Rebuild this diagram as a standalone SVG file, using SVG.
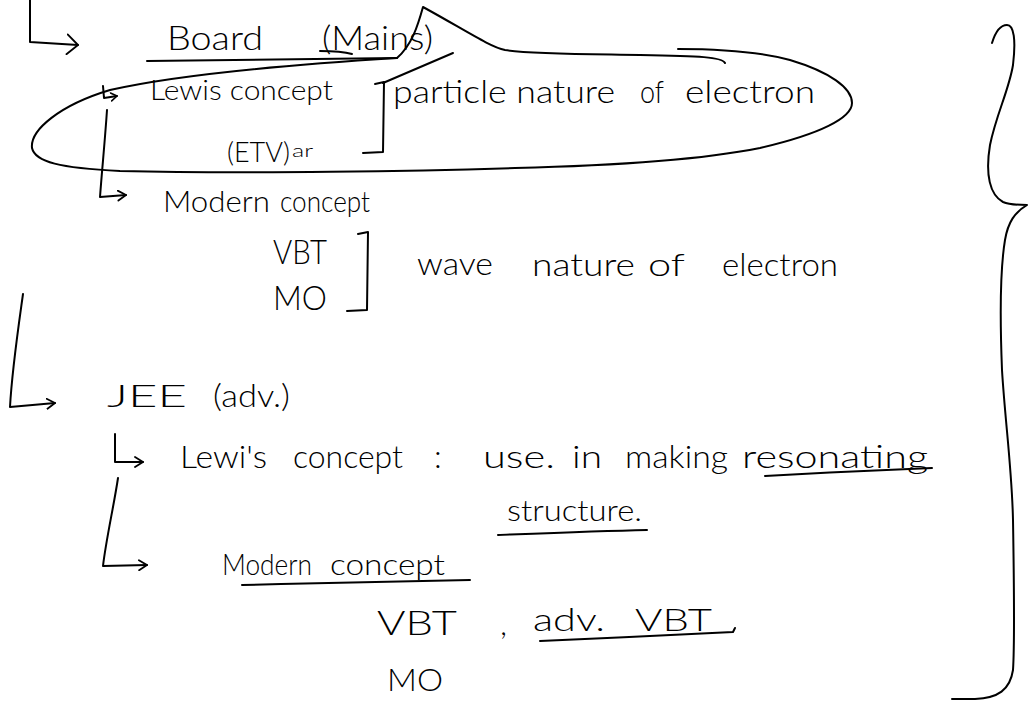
<svg xmlns="http://www.w3.org/2000/svg" width="1030" height="702" viewBox="0 0 1030 702">
  <style>
    .ink { fill: none; stroke: #000; stroke-width: 2; stroke-linecap: round; stroke-linejoin: round; }
    .t { font-family: "Lato", "Inter", "Liberation Sans", sans-serif; font-weight: 300; fill: #000; }
    .s28 { font-size: 28px; }
    .s30 { font-size: 30px; }
    .s32 { font-size: 32px; }
    .s34 { font-size: 34px; }
  </style>
  <defs>
    <marker id="head" viewBox="0 0 10 12" refX="9" refY="6" markerWidth="10" markerHeight="12" markerUnits="userSpaceOnUse" orient="auto">
      <path d="M1,1 L9,6 L1,11" fill="none" stroke="#000" stroke-width="1.8" stroke-linecap="round" stroke-linejoin="round"/>
    </marker>
    <marker id="headL" viewBox="0 0 13 22" refX="12" refY="11" markerWidth="13" markerHeight="22" markerUnits="userSpaceOnUse" orient="auto">
      <path d="M1,1 L12,11 L1,21" fill="none" stroke="#000" stroke-width="1.8" stroke-linecap="round" stroke-linejoin="round"/>
    </marker>
    <marker id="headS" viewBox="0 0 8 10" refX="7" refY="5" markerWidth="8" markerHeight="10" markerUnits="userSpaceOnUse" orient="auto">
      <path d="M1,1 L7,5 L1,9" fill="none" stroke="#000" stroke-width="1.6" stroke-linecap="round" stroke-linejoin="round"/>
    </marker>
  </defs>
  <rect width="1030" height="702" fill="#fff"/>

  <!-- tree branches and their arrows -->
  <g id="connectors" class="ink">
    <path d="M30,0 L30,42 L78,45" marker-end="url(#headL)"/>
    <path d="M103,86 L104,98 L117,96" marker-end="url(#headS)"/>
    <path d="M107,110 C105,140 102,170 100,197 L126,195" marker-end="url(#head)"/>
    <path d="M23,294 C18,330 12,370 10,407 L55,403" marker-end="url(#head)"/>
    <path d="M115,434 L115,462 L143,462" marker-end="url(#head)"/>
    <path d="M118,478 C114,505 106,540 103,566 L147,565" marker-end="url(#head)"/>
  </g>

  <!-- Board (Mains) -->
  <g id="board">
    <text class="t s34" x="167" y="50" textLength="96" lengthAdjust="spacingAndGlyphs">Board</text>
    <text class="t s34" x="322" y="50" textLength="111" lengthAdjust="spacingAndGlyphs">(Mains)</text>
    <path class="ink" d="M147,61 C250,60 330,59 397,58"/>
    <path class="ink" d="M320,51 C330,51 345,52 352,54"/>
  </g>

  <!-- ring drawn round the Lewis line -->
  <g id="ring" class="ink">
    <path d="M725,63 C722,57 700,56 640,55 C580,54 530,54 505,50 C490,47 465,30 423,7 C418,25 412,45 397,58 C300,64 180,74 110,90 C60,105 30,130 32,148 C35,162 60,168 120,171 C250,174 420,171 515,168 C600,166 700,160 760,148 C820,134 852,118 852,103 C852,88 830,72 790,60 C760,52 720,49 678,49"/>
    <path d="M383,83 L453,53"/>
  </g>

  <!-- Lewis concept : particle nature -->
  <g id="lewis">
    <text class="t s28" x="150" y="100" textLength="183" lengthAdjust="spacingAndGlyphs">Lewis concept</text>
    <text class="t s28" x="227" y="162" textLength="63" lengthAdjust="spacingAndGlyphs">(ETV)</text>
    <text class="t" font-size="18" x="292" y="157" textLength="21" lengthAdjust="spacingAndGlyphs">ar</text>
    <path class="ink" d="M375,84 L384,82 L383,152 L363,153"/>
    <text class="t s32" x="393" y="103" textLength="222" lengthAdjust="spacingAndGlyphs">particle nature</text>
    <text class="t s32" x="640" y="103" textLength="24" lengthAdjust="spacingAndGlyphs">of</text>
    <text class="t s32" x="685" y="103" textLength="130" lengthAdjust="spacingAndGlyphs">electron</text>
  </g>

  <!-- Modern concept : wave nature -->
  <g id="modern">
    <text class="t s30" x="163" y="212" textLength="107" lengthAdjust="spacingAndGlyphs">Modern</text>
    <text class="t s30" x="280" y="212" textLength="90" lengthAdjust="spacingAndGlyphs">concept</text>
    <text class="t s34" x="273" y="264" textLength="54" lengthAdjust="spacingAndGlyphs">VBT</text>
    <text class="t s34" x="273" y="310" textLength="54" lengthAdjust="spacingAndGlyphs">MO</text>
    <path class="ink" d="M358,234 L368,232 L367,310 L347,311"/>
    <text class="t s32" x="417" y="275" textLength="76" lengthAdjust="spacingAndGlyphs">wave</text>
    <text class="t s32" x="532" y="276" textLength="103" lengthAdjust="spacingAndGlyphs">nature</text>
    <text class="t s32" x="648" y="276" textLength="37" lengthAdjust="spacingAndGlyphs">of</text>
    <text class="t s32" x="722" y="276" textLength="116" lengthAdjust="spacingAndGlyphs">electron</text>
  </g>

  <!-- JEE (adv.) -->
  <g id="jee">
    <text class="t s32" x="107" y="407" textLength="80" lengthAdjust="spacingAndGlyphs">JEE</text>
    <text class="t s32" x="213" y="407" textLength="77" lengthAdjust="spacingAndGlyphs">(adv.)</text>
  </g>

  <!-- Lewis concept : resonating structure -->
  <g id="jee-lewis">
    <text class="t s32" x="180" y="468" textLength="87" lengthAdjust="spacingAndGlyphs">Lewi's</text>
    <text class="t s32" x="293" y="468" textLength="110" lengthAdjust="spacingAndGlyphs">concept</text>
    <text class="t s32" x="434" y="468">:</text>
    <text class="t s32" x="483" y="468" textLength="72" lengthAdjust="spacingAndGlyphs">use.</text>
    <text class="t s32" x="572" y="468" textLength="30" lengthAdjust="spacingAndGlyphs">in</text>
    <text class="t s32" x="625" y="468" textLength="103" lengthAdjust="spacingAndGlyphs">making</text>
    <text class="t s32" x="742" y="468" textLength="186" lengthAdjust="spacingAndGlyphs">resonating</text>
    <path class="ink" d="M765,476 C820,473 880,470 932,468"/>
    <text class="t s30" x="507" y="521" textLength="135" lengthAdjust="spacingAndGlyphs">structure.</text>
    <path class="ink" d="M498,535 C550,533 600,531 647,530"/>
  </g>

  <!-- Modern concept : VBT, adv. VBT, MO -->
  <g id="jee-modern">
    <text class="t s30" x="222" y="575" textLength="90" lengthAdjust="spacingAndGlyphs">Modern</text>
    <text class="t s30" x="330" y="575" textLength="115" lengthAdjust="spacingAndGlyphs">concept</text>
    <path class="ink" d="M242,585 C320,583 400,581 470,580"/>
    <text class="t s34" x="377" y="635" textLength="80" lengthAdjust="spacingAndGlyphs">VBT</text>
    <text class="t s32" x="500" y="635">,</text>
    <text class="t s32" x="533" y="631" textLength="72" lengthAdjust="spacingAndGlyphs">adv.</text>
    <text class="t s32" x="635" y="631" textLength="77" lengthAdjust="spacingAndGlyphs">VBT</text>
    <path class="ink" d="M540,641 C600,638 680,635 733,632 L735,628"/>
    <text class="t s32" x="387" y="691" textLength="56" lengthAdjust="spacingAndGlyphs">MO</text>
  </g>

  <!-- brace closing the whole note -->
  <g id="brace" class="ink">
    <path d="M992,43 C996,30 1001,25 1007,25 C1014,25 1016,40 1013,65 C1009,90 996,115 990,145 C985,175 990,195 1003,202 C1010,205 1020,205 1027,205 C1015,212 1008,222 1005,240 C1000,270 1000,320 1002,370 C1005,420 1012,470 1013,520 C1014,580 1015,640 1013,670 C1010,690 998,698 975,699 L952,699"/>
  </g>
</svg>
